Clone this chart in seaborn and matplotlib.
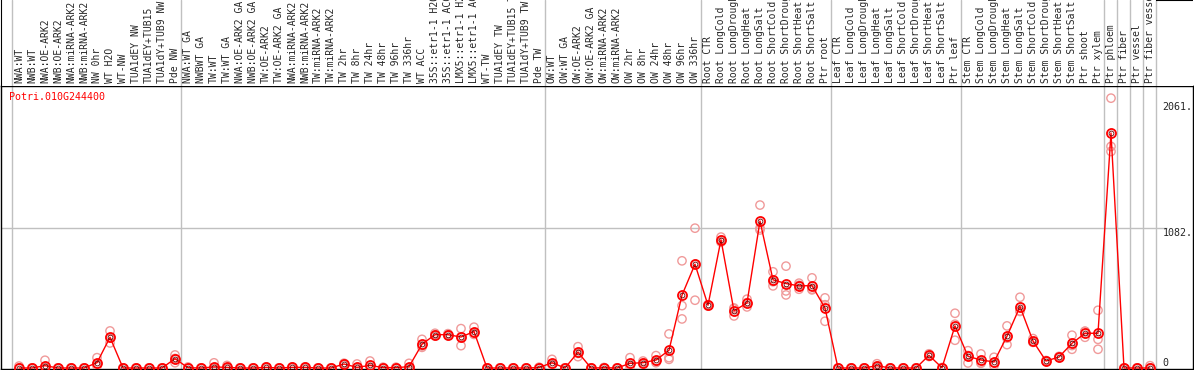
import numpy as np
import pandas as pd
import matplotlib
matplotlib.use('Agg')
import matplotlib.pyplot as plt
import seaborn as sns

gene_id = 'Potri.010G244400'

labels = [
    'NWA:WT', 'NWB:WT', 'NWA:OE-ARK2', 'NWB:OE-ARK2', 'NWA:miRNA-ARK2', 'NWB:miRNA-ARK2',
    'NW 0hr', 'WT H2O', 'WT-NW', 'TUA1dEY NW', 'TUA1dEY+TUB15', 'TUA1dY+TUB9 NW', 'Pde NW',
    'NWA:WT GA', 'NWBWT GA', 'TW:WT', 'TW:WT GA', 'NWA:OE-ARK2 GA', 'NWB:OE-ARK2 GA',
    'TW:OE-ARK2', 'TW:OE-ARK2 GA', 'NWA:miRNA-ARK2', 'NWB:miRNA-ARK2', 'TW:miRNA-ARK2',
    'TW:miRNA-ARK2', 'TW 2hr', 'TW 8hr', 'TW 24hr', 'TW 48hr', 'TW 96hr', 'TW 336hr',
    'WT ACC', '35S::etr1-1 H2O', '35S::etr1-1 ACC', 'LMX5::etr1-1 H2O', 'LMX5::etr1-1 ACC',
    'WT-TW', 'TUA1dEY TW', 'TUA1dEY+TUB15 TW', 'TUA1dY+TUB9 TW', 'Pde TW',
    'OW:WT', 'OW:WT GA', 'OW:OE-ARK2', 'OW:OE-ARK2 GA', 'OW:miRNA-ARK2', 'OW:miRNA-ARK2',
    'OW 2hr', 'OW 8hr', 'OW 24hr', 'OW 48hr', 'OW 96hr', 'OW 336hr',
    'Root CTR', 'Root LongCold', 'Root LongDrought', 'Root LongHeat', 'Root LongSalt',
    'Root ShortCold', 'Root ShortDrought', 'Root ShortHeat', 'Root ShortSalt', 'Ptr root',
    'Leaf CTR', 'Leaf LongCold', 'Leaf LongDrought', 'Leaf LongHeat', 'Leaf LongSalt',
    'Leaf ShortCold', 'Leaf ShortDrought', 'Leaf ShortHeat', 'Leaf ShortSalt', 'Ptr leaf',
    'Stem CTR', 'Stem LongCold', 'Stem LongDrought', 'Stem LongHeat', 'Stem LongSalt',
    'Stem ShortCold', 'Stem ShortDrought', 'Stem ShortHeat', 'Stem ShortSalt', 'Ptr shoot',
    'Ptr xylem', 'Ptr phloem', 'Ptr fiber', 'Ptr vessel', 'Ptr fiber vessel',
]

# mean expression per sample (red line)
means = [
    0, 0, 18, 0, 0, 0, 41, 238, 0, 0, 0, 0, 72,
    2, 0, 8, 5, 0, 0, 5, 0, 5, 5, 0, 0, 31, 5, 20, 3, 3, 10,
    184, 258, 258, 240, 282, 0, 0, 0, 0, 3,
    41, 0, 122, 0, 2, 0, 36, 41, 62, 137, 564, 804,
    486, 993, 442, 504, 1138, 683, 654, 636, 638, 465,
    0, 0, 0, 18, 0, 0, 0, 98, 2, 326,
    90, 62, 47, 246, 476, 209, 54, 85, 191, 269,
    269, 1820, 0, 0, 0,
]

# replicate values per sample (pale circles)
reps = [
    [15, 0, 0], [0, 0, 0], [60, 0, 0], [0, 0, 0], [0, 0, 0], [0, 0, 0],
    [80, 15, 28], [287, 194, 233], [0, 0, 0], [0, 0, 0], [0, 0, 0], [0, 0, 0], [101, 41, 74],
    [8, 0, 0], [0, 0, 0], [40, 0, 0], [20, 0, 0], [0, 0, 0], [0, 0, 0],
    [8, 5, 2], [0, 0, 0], [8, 5, 2], [8, 5, 2], [0, 0, 0], [0, 0, 0],
    [37, 30, 26], [31, 0, 0], [54, 5, 0], [6, 2, 0], [6, 2, 0], [36, 0, 0],
    [222, 170, 160], [269, 248, 257], [266, 250, 258], [305, 173, 242], [316, 270, 260],
    [0, 0, 0], [0, 0, 0], [0, 0, 0], [0, 0, 0], [6, 2, 0],
    [67, 30, 26], [0, 0, 0], [165, 88, 113], [0, 0, 0], [4, 1, 0], [0, 0, 0],
    [80, 20, 8], [54, 38, 31], [96, 41, 49], [264, 80, 67], [830, 483, 380], [1083, 525, 804],
    [490, 480, 488], [1014, 990, 975], [465, 403, 458], [533, 473, 506], [1262, 1083, 1069],
    [745, 636, 668], [789, 597, 566], [657, 610, 641], [698, 605, 611], [543, 362, 490],
    [0, 0, 0], [0, 0, 0], [0, 0, 0], [33, 15, 6], [0, 0, 0],
    [0, 0, 0], [0, 0, 0], [110, 95, 89], [4, 1, 0], [424, 215, 339],
    [134, 39, 97], [109, 40, 37], [83, 18, 40], [326, 181, 231], [548, 442, 438],
    [228, 200, 199], [58, 52, 52], [90, 82, 83], [254, 145, 174], [238, 285, 284],
    [447, 222, 145], [2090, 1716, 1677], [0, 0, 0], [0, 0, 0], [18, 0, 0],
]

group_edges = [-0.5, 12.5, 40.5, 52.5, 62.5, 72.5, 83.5, 84.5, 85.5, 86.5, 87.5]
yticks = [0, 1082, 2061]
ytick_labels = ['0', '1082.', '2061.']

sns.set_style('white')
plt.rcParams['font.family'] = ['DejaVu Sans Mono']

W, H = 1194, 370
fig = plt.figure(figsize=(W / 100, H / 100), dpi=100)
ax = fig.add_axes([0.5 / W, 1.5 / H, 1192 / W, 283 / H])
top = fig.add_axes([0.5 / W, 284.5 / H, 1192 / W, 85.5 / H])

xlim = (-1.423, 90.27)

pos = np.arange(len(labels))
mean_df = pd.DataFrame({'pos': pos, 'value': means})
rep_df = pd.DataFrame([(i, v) for i, vals in enumerate(reps) for v in vals],
                      columns=['pos', 'value'])

pale = '#f09a9a'
sns.scatterplot(data=rep_df, x='pos', y='value', ax=ax, marker='o', s=36,
                color=pale, facecolor='none', edgecolor=pale, linewidth=1.0,
                zorder=3, legend=False)
sns.lineplot(data=mean_df, x='pos', y='value', ax=ax, color='red', linewidth=1.0,
             marker='o', markersize=6.5, markerfacecolor='none',
             markeredgecolor='red', markeredgewidth=1.3, errorbar=None, zorder=4)
# dark core of the mean markers
ax.plot(mean_df['pos'], mean_df['value'], ls='none', marker='o', ms=3.5,
        mfc='none', mec='#600000', mew=0.6, zorder=5)

for e in group_edges:
    ax.axvline(e, color='#c0c0c0', lw=1, zorder=1)
    top.axvline(e, color='#c0c0c0', lw=1, zorder=1)
ax.hlines(1082, xlim[0], 88.3, color='#c0c0c0', lw=1, zorder=1)

ax.set_xlim(*xlim)
ax.set_ylim(-3.9, 2188)
ax.set_xticks([])
ax.set_yticks([])
ax.set_xlabel('')
ax.set_ylabel('')
for s in ax.spines.values():
    s.set_color('black')
    s.set_linewidth(1.0)
    s.set_visible(True)

ax.text(0.0071, 0.959, gene_id, transform=ax.transAxes, color='red',
        fontsize=7.2, ha='left', va='center')

ytrans = ax.get_yaxis_transform()
for v, t in zip(yticks, ytick_labels):
    ax.text(0.975, v, t, transform=ytrans, fontsize=7.2, ha='left',
            va='bottom' if v == 0 else 'top')

top.set_xlim(*xlim)
top.set_ylim(0, 1)
top.set_xticks([])
top.set_yticks([])
for k, s in top.spines.items():
    s.set_visible(k == 'left')
    s.set_color('black')
for i, lab in enumerate(labels):
    top.text(i, 0.03, lab, rotation=90, ha='center', va='bottom', fontsize=7,
             clip_on=False)
top.hlines(1, 87.5, xlim[1], color='black', lw=1.5, clip_on=False)

fig.savefig('out.png', dpi=100)
